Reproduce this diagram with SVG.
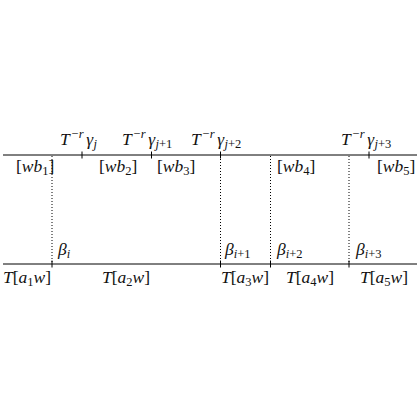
<svg xmlns="http://www.w3.org/2000/svg" width="420" height="420" viewBox="0 0 420 420">
<style>
.ln{stroke:#000;stroke-width:1;fill:none}
.dot{stroke:#000;stroke-width:1;stroke-dasharray:1 2;fill:none}
text{font-family:"Liberation Serif","Times New Roman",serif;font-size:17.5px;fill:#111}
.i{font-style:italic}
.s{font-size:12.5px}
</style>
<rect width="420" height="420" fill="#fff"/>
<g id="connectors">
<line class="ln" x1="3" y1="155" x2="417" y2="155"/>
<line class="ln" x1="3" y1="264" x2="417" y2="264"/>
<line class="ln" x1="82" y1="151.5" x2="82" y2="158.5"/>
<line class="ln" x1="151.5" y1="151.5" x2="151.5" y2="158.5"/>
<line class="ln" x1="220.5" y1="151.5" x2="220.5" y2="158.5"/>
<line class="ln" x1="369" y1="151.5" x2="369" y2="158.5"/>
<line class="ln" x1="52" y1="260.5" x2="52" y2="267.5"/>
<line class="ln" x1="220.5" y1="260.5" x2="220.5" y2="267.5"/>
<line class="ln" x1="270.5" y1="260.5" x2="270.5" y2="267.5"/>
<line class="ln" x1="349" y1="260.5" x2="349" y2="267.5"/>
<line class="dot" x1="52" y1="156" x2="52" y2="264"/>
<line class="dot" x1="220.5" y1="156" x2="220.5" y2="264"/>
<line class="dot" x1="270.5" y1="156" x2="270.5" y2="264"/>
<line class="dot" x1="349" y1="156" x2="349" y2="264"/>
</g>
<g id="top-labels">
<text x="60" y="145"><tspan class="i">T</tspan><tspan class="s" dx="1.5" dy="-7">−<tspan class="i" dx="0.5">r</tspan></tspan><tspan class="i" dx="2.5" dy="7">γ</tspan><tspan class="s i" dx="0.5" dy="3">j</tspan></text>
<text x="122" y="145"><tspan class="i">T</tspan><tspan class="s" dx="1.5" dy="-7">−<tspan class="i" dx="0.5">r</tspan></tspan><tspan class="i" dx="2.5" dy="7">γ</tspan><tspan class="s" dx="0.5" dy="3"><tspan class="i">j</tspan>+1</tspan></text>
<text x="191" y="145"><tspan class="i">T</tspan><tspan class="s" dx="1.5" dy="-7">−<tspan class="i" dx="0.5">r</tspan></tspan><tspan class="i" dx="2.5" dy="7">γ</tspan><tspan class="s" dx="0.5" dy="3"><tspan class="i">j</tspan>+2</tspan></text>
<text x="341" y="145"><tspan class="i">T</tspan><tspan class="s" dx="1.5" dy="-7">−<tspan class="i" dx="0.5">r</tspan></tspan><tspan class="i" dx="2.5" dy="7">γ</tspan><tspan class="s" dx="0.5" dy="3"><tspan class="i">j</tspan>+3</tspan></text>
<text x="16" y="172">[<tspan class="i">wb</tspan><tspan class="s" dy="3">1</tspan><tspan dy="-3">]</tspan></text>
<text x="99" y="172">[<tspan class="i">wb</tspan><tspan class="s" dy="3">2</tspan><tspan dy="-3">]</tspan></text>
<text x="157" y="172">[<tspan class="i">wb</tspan><tspan class="s" dy="3">3</tspan><tspan dy="-3">]</tspan></text>
<text x="277" y="172">[<tspan class="i">wb</tspan><tspan class="s" dy="3">4</tspan><tspan dy="-3">]</tspan></text>
<text x="377" y="172">[<tspan class="i">wb</tspan><tspan class="s" dy="3">5</tspan><tspan dy="-3">]</tspan></text>
</g>
<g id="bottom-labels">
<text x="58" y="255"><tspan class="i">β</tspan><tspan class="s i" dy="3">i</tspan></text>
<text x="225" y="255"><tspan class="i">β</tspan><tspan class="s" dy="3"><tspan class="i">i</tspan>+1</tspan></text>
<text x="277" y="255"><tspan class="i">β</tspan><tspan class="s" dy="3"><tspan class="i">i</tspan>+2</tspan></text>
<text x="356" y="255"><tspan class="i">β</tspan><tspan class="s" dy="3"><tspan class="i">i</tspan>+3</tspan></text>
<text x="3" y="283"><tspan class="i">T</tspan>[<tspan class="i">a</tspan><tspan class="s" dy="3">1</tspan><tspan class="i" dy="-3">w</tspan>]</text>
<text x="102" y="283"><tspan class="i">T</tspan>[<tspan class="i">a</tspan><tspan class="s" dy="3">2</tspan><tspan class="i" dy="-3">w</tspan>]</text>
<text x="221" y="283"><tspan class="i">T</tspan>[<tspan class="i">a</tspan><tspan class="s" dy="3">3</tspan><tspan class="i" dy="-3">w</tspan>]</text>
<text x="286" y="283"><tspan class="i">T</tspan>[<tspan class="i">a</tspan><tspan class="s" dy="3">4</tspan><tspan class="i" dy="-3">w</tspan>]</text>
<text x="360" y="283"><tspan class="i">T</tspan>[<tspan class="i">a</tspan><tspan class="s" dy="3">5</tspan><tspan class="i" dy="-3">w</tspan>]</text>
</g>
</svg>
